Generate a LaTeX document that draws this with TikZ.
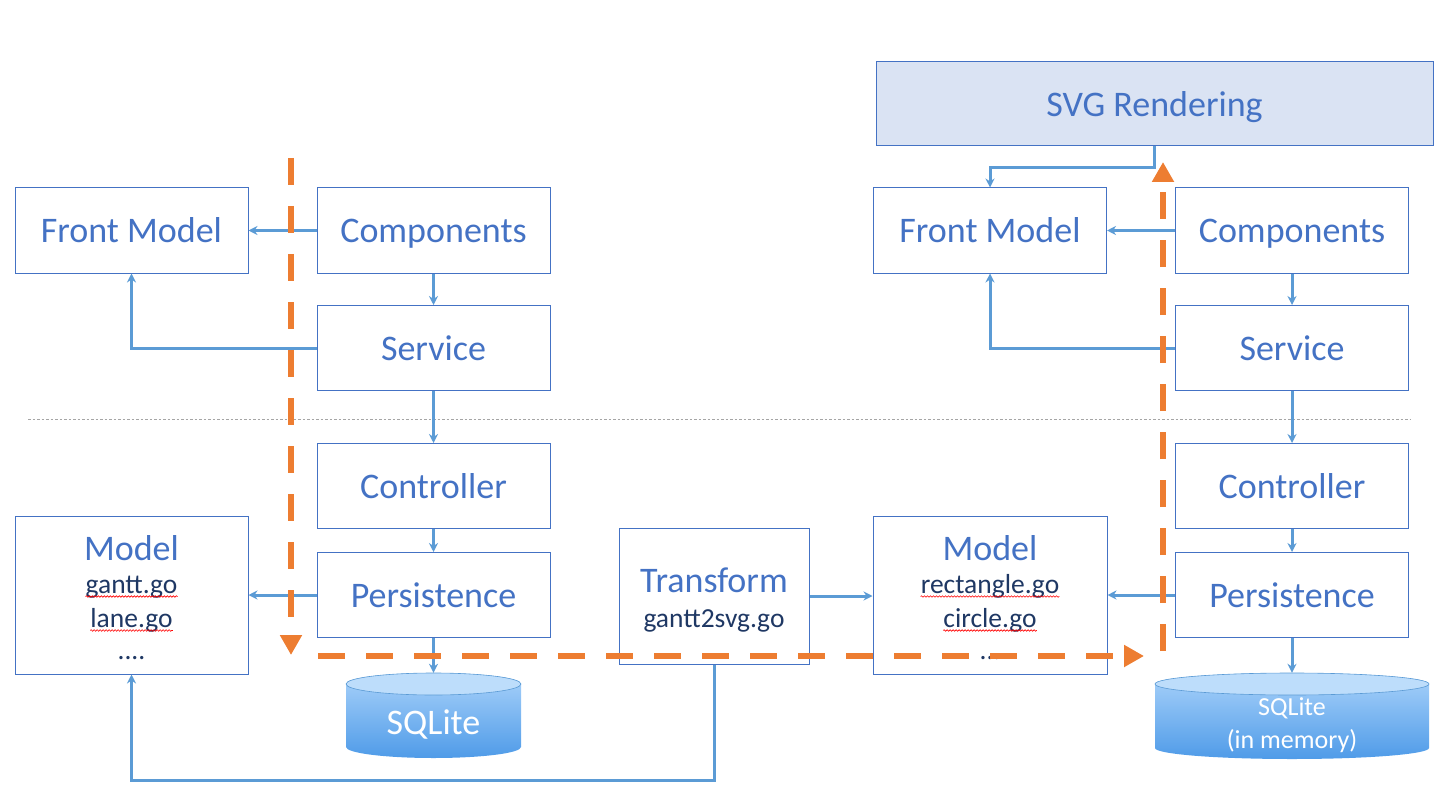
\documentclass[tikz,border=0pt]{standalone}
\usepackage{fontspec}
\setmainfont{Carlito}
\usetikzlibrary{arrows.meta,decorations.pathmorphing,calc}
\definecolor{boxc}{HTML}{4472C4}
\definecolor{linec}{HTML}{5B9BD5}
\definecolor{orng}{HTML}{ED7D31}
\definecolor{navy}{HTML}{1F3864}
\definecolor{svgfill}{HTML}{DAE3F3}
\definecolor{cyltop}{HTML}{A9D2FA}
\definecolor{cylbot}{HTML}{4F9BE8}
\definecolor{cylcap}{HTML}{BDDDFB}
\definecolor{sepc}{HTML}{A5A5A5}
\begin{document}
\begin{tikzpicture}[x=1pt,y=-1pt,
  box/.style={draw=boxc,line width=1pt,fill=white,text=boxc,
    font=\fontsize{36}{40}\selectfont,minimum width=233pt,minimum height=85pt,
    inner sep=0pt,text height=25pt,text depth=0pt,anchor=center},
  big/.style={text=boxc,font=\fontsize{36}{40}\selectfont,inner sep=0pt,anchor=base},
  small/.style={text=navy,font=\fontsize{27.5}{30}\selectfont,inner sep=0pt,anchor=base},
  dbtext/.style={text=white,inner sep=0pt,anchor=base},
  conn/.style={draw=linec,line width=3pt,-{Stealth[length=9pt,width=9pt]}},
  flow/.style={draw=orng,line width=6.5pt,dash pattern=on 27pt off 21pt,
    -{Triangle[length=20pt,width=21pt]}},
  spell/.style={draw=red,line width=0.6pt,decorate,
    decoration={snake,amplitude=0.8pt,segment length=3pt}},
  sepline/.style={draw=sepc,line width=0.7pt,dash pattern=on 2.5pt off 2pt}]
\useasboundingbox (0,0) rectangle (1447,794);

% separator
\coordinate (s1) at (28,419);
\coordinate (s2) at (1410,419);
\draw[sepline] (s1) -- (s2);

% cylinders
\shade[top color=cyltop,bottom color=cylbot]
  (346,684) -- (346,747) arc[start angle=180,end angle=360,x radius=87.5pt,y radius=11pt]
  -- (521,684) arc[start angle=0,end angle=180,x radius=87.5pt,y radius=11pt] -- cycle;
\fill[cylcap] (433.5,684) ellipse[x radius=87.5pt,y radius=11pt];
\draw[linec,line width=0.6pt] (433.5,684) ellipse[x radius=87.5pt,y radius=11pt];
\node[minimum width=175pt,minimum height=85pt,inner sep=0pt] (ldb) at (433.5,715.5) {};
\node[dbtext,font=\fontsize{36}{40}\selectfont] (ldbt) at (433.5,734) {SQLite};

\shade[top color=cyltop,bottom color=cylbot]
  (1155,684) -- (1155,748) arc[start angle=180,end angle=360,x radius=137pt,y radius=11pt]
  -- (1429,684) arc[start angle=0,end angle=180,x radius=137pt,y radius=11pt] -- cycle;
\fill[cylcap] (1292,684) ellipse[x radius=137pt,y radius=11pt];
\draw[linec,line width=0.6pt] (1292,684) ellipse[x radius=137pt,y radius=11pt];
\node[minimum width=274pt,minimum height=85pt,inner sep=0pt] (rdb) at (1292,715.5) {};
\node[dbtext,font=\fontsize{26}{30}\selectfont] (rdbt1) at (1292,715) {SQLite};
\node[dbtext,font=\fontsize{26}{30}\selectfont] (rdbt2) at (1292,748) {(in memory)};

% left boxes
\node[box] (lfm) at (131.5,230.5) {Front Model};
\node[box] (lcomp) at (433.5,230.5) {Components};
\node[box] (lserv) at (433.5,348) {Service};
\node[box] (lctrl) at (433.5,486) {Controller};
\node[box] (lpers) at (433.5,595) {Persistence};
\node[box,minimum height=158pt] (lmodel) at (131.5,595) {};
\node[big] (lmt) at (131.5,560) {Model};
\node[small] (lg1) at (131.5,593) {gantt.go};
\node[small] (lg2) at (131.5,627) {lane.go};
\node[small] (lg3) at (131.5,659) {....};

% transform
\node[box,minimum width=190pt,minimum height=136pt] (tr) at (714,596) {};
\node[big] (trt) at (714,592) {Transform};
\node[small] (trs) at (714,627) {gantt2svg.go};

% right boxes
\node[box,fill=svgfill,minimum width=557pt,minimum height=84pt] (svg) at (1154.5,104) {SVG Rendering};
\node[box] (rfm) at (990,230.5) {Front Model};
\node[box] (rcomp) at (1292,230.5) {Components};
\node[box] (rserv) at (1292,348) {Service};
\node[box] (rctrl) at (1292,486) {Controller};
\node[box] (rpers) at (1292,595) {Persistence};
\node[box,minimum width=234pt,minimum height=158pt] (rmodel) at (990,595) {};
\node[big] (rmt) at (990,560) {Model};
\node[small] (rg1) at (990,593) {rectangle.go};
\node[small] (rg2) at (990,627) {circle.go};
\node[small] (rg3) at (990,659) {...};

% spell-check underlines
\foreach \n in {lg1,lg2,rg1,rg2}{
  \draw[spell] ([yshift=-3.5pt]\n.base west) -- ([yshift=-3.5pt]\n.base east);
}

% left connectors
\draw[conn] (lcomp.west) -- (lfm.east);
\draw[conn] (lcomp.south) -- (lserv.north);
\draw[conn] (lserv.west) -| (lfm.south);
\draw[conn] (lserv.south) -- (lctrl.north);
\draw[conn] (lctrl.south) -- (lpers.north);
\draw[conn] (lpers.west) -- (lmodel.east);
\draw[conn] (lpers.south) -- (ldb.north);
\coordinate (tb) at (714,780);
\draw[conn] (tr.south) -- (tb) -| (lmodel.south);
\draw[conn] (tr.east) -- (rmodel.west |- tr.east);

% right connectors
\coordinate (sv) at (1154.5,168);
\draw[conn] (svg.south) -- (sv) -| (rfm.north);
\draw[conn] (rcomp.west) -- (rfm.east);
\draw[conn] (rcomp.south) -- (rserv.north);
\draw[conn] (rserv.west) -| (rfm.south);
\draw[conn] (rserv.south) -- (rctrl.north);
\draw[conn] (rctrl.south) -- (rpers.north);
\draw[conn] (rpers.west) -- (rmodel.east);
\draw[conn] (rpers.south) -- (rdb.north);

% orange flow
\coordinate (o1) at (291,158);
\coordinate (o2) at (291,655);
\coordinate (o3) at (318,656);
\coordinate (o4) at (1144,656);
\coordinate (o5) at (1163,651);
\coordinate (o6) at (1163,162);
\draw[flow] (o1) -- (o2);
\draw[flow] (o3) -- (o4);
\draw[flow] (o5) -- (o6);
\end{tikzpicture}
\end{document}
